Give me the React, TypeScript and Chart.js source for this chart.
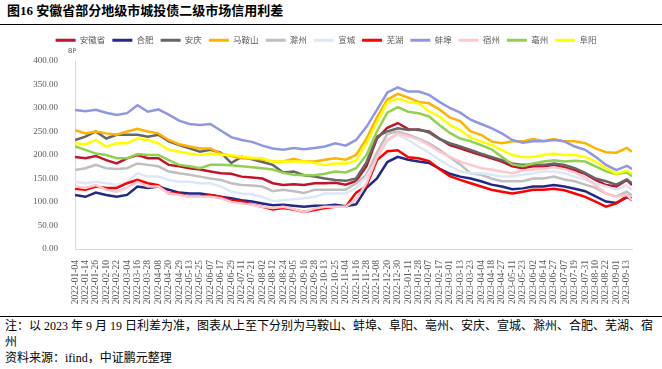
import React, { useEffect, useRef } from 'react';
import { Chart, registerables } from 'chart.js';

Chart.register(...registerables);

// ---------------- data ----------------
const TICK_LABELS: string[] = [
  '2022-01-04', '2022-01-14', '2022-01-26', '2022-02-10', '2022-02-22', '2022-03-04', '2022-03-16', '2022-03-28',
  '2022-04-08', '2022-04-20', '2022-04-29', '2022-05-13', '2022-05-25', '2022-06-07', '2022-06-17', '2022-06-29',
  '2022-07-11', '2022-07-21', '2022-08-02', '2022-08-12', '2022-08-24', '2022-09-05', '2022-09-16', '2022-09-28',
  '2022-10-13', '2022-10-25', '2022-11-04', '2022-11-16', '2022-11-28', '2022-12-08', '2022-12-20', '2022-12-30',
  '2023-01-11', '2023-01-28', '2023-02-07', '2023-02-17', '2023-03-01', '2023-03-13', '2023-03-23', '2023-04-04',
  '2023-04-18', '2023-04-27', '2023-05-11', '2023-05-23', '2023-06-02', '2023-06-14', '2023-06-27', '2023-07-07',
  '2023-07-19', '2023-07-31', '2023-08-10', '2023-08-22', '2023-09-01', '2023-09-13',
];
const LAST_DATE = '2023-09-19';
const LABEL_STEP = 8; // trading days between two tick labels
const LAST_OFFSET = 4; // trading days from the last tick label to LAST_DATE

const SERIES_NAMES = ['安徽省', '合肥', '安庆', '马鞍山', '滁州', '宣城', '芜湖', '蚌埠', '宿州', '亳州', '阜阳'];
const SERIES_COLORS = ['#C0142C', '#1F2A86', '#666666', '#FFB300', '#BFBFBF', '#DCE8F6', '#FF0000', '#8F97E3', '#FFC8CE', '#92D050', '#FFFF00'];

const ANHUI = [196, 193, 198, 189, 182, 193, 200, 193, 193, 179, 176, 172, 169, 165, 161, 160, 154, 152, 150, 140, 136, 138, 136, 140, 140, 141, 137, 145, 176, 235, 258, 268, 255, 253, 250, 235, 221, 214, 207, 200, 193, 186, 176, 172, 176, 176, 178, 174, 167, 160, 147, 136, 133, 147, 136];
const HEFEI = [115, 111, 120, 115, 111, 115, 133, 130, 133, 126, 120, 118, 118, 115, 111, 108, 104, 101, 97, 93, 94, 92, 90, 92, 92, 94, 91, 95, 130, 150, 185, 196, 190, 186, 183, 171, 160, 154, 150, 144, 137, 133, 127, 129, 133, 133, 136, 133, 128, 123, 112, 101, 98, 110, 108];
const ANQING = [232, 239, 250, 235, 243, 243, 243, 239, 243, 229, 221, 214, 207, 211, 205, 183, 196, 191, 185, 179, 163, 165, 157, 154, 150, 147, 145, 150, 185, 239, 250, 257, 253, 255, 248, 234, 225, 218, 211, 203, 196, 189, 182, 179, 179, 179, 182, 179, 172, 162, 150, 144, 137, 148, 140];
const MAANSHAN = [253, 246, 250, 246, 243, 250, 256, 250, 246, 232, 223, 218, 214, 214, 203, 198, 193, 192, 191, 186, 186, 192, 186, 186, 190, 193, 190, 200, 235, 280, 318, 330, 322, 313, 310, 297, 280, 272, 250, 243, 229, 225, 229, 229, 234, 230, 234, 229, 229, 225, 214, 206, 205, 215, 207];
const CHUZHOU = [168, 172, 179, 172, 170, 172, 182, 179, 176, 165, 161, 158, 154, 150, 147, 140, 136, 135, 133, 123, 126, 123, 119, 126, 126, 126, 126, 140, 158, 205, 245, 250, 243, 235, 225, 211, 195, 180, 161, 158, 150, 144, 144, 144, 150, 150, 154, 148, 144, 137, 130, 118, 112, 122, 114];
const XUANCHENG = [143, 140, 143, 140, 136, 143, 161, 154, 154, 147, 143, 143, 140, 140, 133, 122, 118, 116, 111, 102, 104, 106, 108, 111, 118, 118, 118, 130, 154, 190, 230, 243, 232, 218, 205, 190, 176, 165, 161, 161, 158, 154, 154, 158, 161, 165, 165, 161, 154, 147, 140, 133, 126, 135, 126];
const WUHU = [128, 126, 133, 130, 130, 140, 147, 140, 136, 118, 118, 111, 111, 115, 111, 103, 101, 95, 90, 84, 87, 84, 79, 83, 87, 90, 90, 120, 134, 189, 208, 210, 195, 193, 187, 170, 155, 147, 140, 133, 126, 122, 118, 122, 126, 126, 128, 125, 118, 111, 101, 90, 97, 112, 104];
const BENGBU = [296, 293, 296, 290, 285, 289, 306, 292, 297, 286, 273, 266, 264, 266, 252, 238, 232, 228, 220, 214, 211, 215, 212, 215, 218, 225, 220, 232, 260, 296, 333, 344, 335, 335, 328, 313, 300, 290, 275, 266, 257, 246, 232, 226, 229, 229, 232, 229, 218, 211, 196, 179, 168, 177, 170];
const SUZHOU = [133, 130, 136, 126, 122, 130, 143, 133, 133, 118, 115, 111, 111, 111, 108, 100, 97, 94, 90, 87, 90, 85, 79, 86, 90, 90, 90, 105, 140, 195, 232, 246, 240, 233, 221, 207, 196, 186, 179, 172, 169, 165, 161, 167, 169, 171, 174, 170, 163, 152, 136, 118, 111, 115, 104];
const BOZHOU = [218, 211, 203, 200, 193, 193, 202, 200, 200, 189, 179, 176, 172, 179, 179, 178, 176, 174, 172, 169, 162, 158, 157, 157, 160, 165, 163, 172, 200, 250, 290, 302, 292, 289, 282, 264, 247, 235, 229, 221, 212, 196, 180, 176, 182, 186, 189, 186, 188, 186, 176, 165, 159, 163, 155];
const FUYANG = [225, 223, 232, 218, 225, 225, 235, 232, 225, 211, 207, 203, 200, 203, 200, 200, 196, 194, 193, 186, 186, 186, 186, 183, 179, 182, 182, 188, 225, 270, 312, 320, 313, 310, 293, 282, 264, 253, 237, 229, 221, 211, 200, 196, 196, 200, 203, 200, 200, 196, 186, 172, 160, 167, 160];

const SERIES_VALUES = [ANHUI, HEFEI, ANQING, MAANSHAN, CHUZHOU, XUANCHENG, WUHU, BENGBU, SUZHOU, BOZHOU, FUYANG];

const Y_MIN = 0;
const Y_MAX = 400;
const Y_STEP = 50;

// trading-day positions of the points: one per tick label, then the last date
const POINT_X = TICK_LABELS.map((_, i) => i * LABEL_STEP).concat([(TICK_LABELS.length - 1) * LABEL_STEP + LAST_OFFSET]);
const POINT_DATES = TICK_LABELS.concat([LAST_DATE]);

const SERIF = '"Liberation Serif", "Times New Roman", "Noto Sans CJK SC", serif';
const CJK = '"Noto Sans CJK SC", sans-serif';

export default function App() {
  const canvasRef = useRef<HTMLCanvasElement>(null);

  useEffect(() => {
    const canvas = canvasRef.current;
    if (!canvas) return;

    const legendSpacing = {
      id: 'legendSpacing',
      beforeInit(chart: any) {
        const legend = chart.legend;
        if (!legend) return;
        const origFit = legend.fit;
        legend.fit = function fit() {
          origFit.call(this);
          this.height += 6.5;
        };
      },
      afterLayout(chart: any) {
        // shift the legend's centring box so it sits where the reference has it
        if (chart.legend) {
          chart.legend.left = 20;
        }
      },
    };

    const n = SERIES_NAMES.length;
    const chart = new Chart(canvas, {
      type: 'line',
      data: {
        datasets: SERIES_NAMES.map((name, k) => ({
          label: name,
          data: SERIES_VALUES[k].map((v, i) => ({ x: POINT_X[i], y: v, date: POINT_DATES[i] })),
          borderColor: SERIES_COLORS[k],
          backgroundColor: SERIES_COLORS[k],
          borderWidth: 2.5,
          pointRadius: 0,
          tension: 0,
          order: n - k,
        })),
      },
      options: {
        responsive: false,
        animation: false,
        devicePixelRatio: 1,
        layout: { padding: { left: 0, right: 30, top: 0, bottom: 0 } },
        plugins: {
          tooltip: { enabled: false },
          legend: {
            position: 'top',
            align: 'center',
            labels: {
              font: { family: CJK, size: 8.5 },
              color: '#595959',
              boxWidth: 20,
              boxHeight: 3,
              padding: 7,
              sort: (a: any, b: any) => a.datasetIndex - b.datasetIndex,
              generateLabels: (c: any) =>
                (Chart.defaults.plugins.legend.labels.generateLabels as any)(c).map((it: any) => ({ ...it, lineWidth: 0 })),
            },
          },
        },
        scales: {
          x: {
            type: 'linear',
            min: 0,
            max: POINT_X[POINT_X.length - 1],
            grid: { display: false },
            border: { display: true, color: '#D9D9D9', width: 1 },
            afterBuildTicks: (scale: any) => {
              scale.ticks = TICK_LABELS.map((_, i) => ({ value: i * LABEL_STEP }));
            },
            afterFit: (scale: any) => {
              scale.height = 64;
            },
            ticks: {
              autoSkip: false,
              maxRotation: 90,
              minRotation: 90,
              padding: 3,
              color: '#595959',
              font: { family: SERIF, size: 9.5 },
              callback: (value: any) => {
                const i = Number(value) / LABEL_STEP;
                return Number.isInteger(i) && i < TICK_LABELS.length ? TICK_LABELS[i] : '';
              },
            },
          },
          y: {
            min: Y_MIN,
            max: Y_MAX,
            grid: { display: false },
            border: { display: true, color: '#D9D9D9', width: 1 },
            afterFit: (scale: any) => {
              scale.width = 75;
            },
            ticks: {
              stepSize: Y_STEP,
              padding: 9,
              color: '#595959',
              font: { family: SERIF, size: 9 },
              callback: (value: any) => Number(value).toFixed(2),
            },
          },
        },
      },
      plugins: [legendSpacing],
    } as any);

    return () => chart.destroy();
  }, []);

  return (
    <div style={{ position: 'fixed', left: 0, top: 0, width: 662, height: 369, background: '#fff', overflow: 'hidden' }}>
      <div
        style={{
          position: 'absolute', left: 7, top: 3, fontSize: 13, fontWeight: 'bold', lineHeight: '16px',
          fontFamily: SERIF, whiteSpace: 'nowrap', color: '#000',
        }}
      >
        图16 安徽省部分地级市城投债二级市场信用利差
      </div>
      <div style={{ position: 'absolute', left: 0, top: 24, width: 662, borderTop: '1.5px solid #000' }} />
      <div style={{ position: 'absolute', left: 0, top: 29, width: 662, height: 284 }}>
        <canvas ref={canvasRef} width={662} height={284} style={{ display: 'block' }} />
      </div>
      <div
        style={{ position: 'absolute', left: 68, top: 47, fontSize: 6.5, lineHeight: '8px', fontFamily: '"DejaVu Sans", sans-serif', color: '#595959' }}
      >
        BP
      </div>
      <div style={{ position: 'absolute', left: 0, top: 316, width: 662, borderTop: '1.5px solid #000' }} />
      <div
        style={{ position: 'absolute', left: 5, top: 318, fontSize: 12, lineHeight: '16px', fontFamily: SERIF, color: '#000', whiteSpace: 'nowrap' }}
      >
        <div>注：以 2023 年 9 月 19 日利差为准，图表从上至下分别为马鞍山、蚌埠、阜阳、亳州、安庆、宣城、滁州、合肥、芜湖、宿</div>
        <div>州</div>
        <div>资料来源：ifind，中证鹏元整理</div>
      </div>
    </div>
  );
}
